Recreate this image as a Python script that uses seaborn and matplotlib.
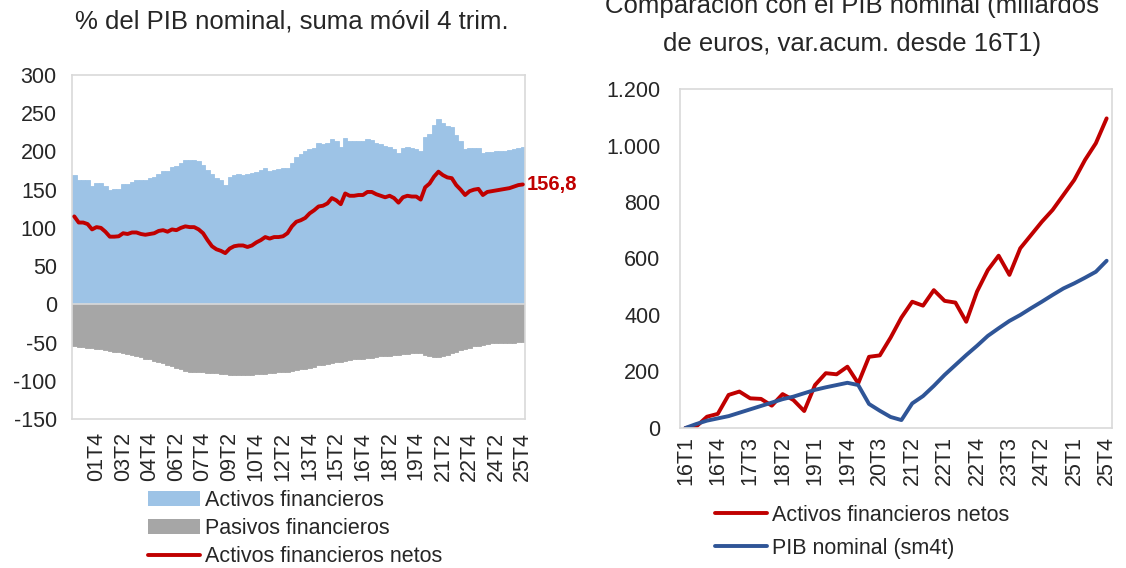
import numpy as np
import pandas as pd
import matplotlib
matplotlib.use('Agg')
import matplotlib.pyplot as plt
from matplotlib.patches import Patch
from matplotlib.lines import Line2D
from matplotlib.ticker import FuncFormatter
import seaborn as sns

# 左图：占名义GDP的百分比，00T3 - 25T4
activos = [169, 163, 163, 162, 155, 159, 159, 155, 150, 151,
           151, 158, 158, 160, 163, 163, 162, 165, 166, 170,
           174, 174, 180, 181, 185, 189, 189, 189, 187, 182,
           176, 171, 165, 162, 156, 167, 169, 170, 169, 171,
           172, 173, 176, 178, 174, 176, 177, 178, 178, 185,
           193, 197, 200, 203, 205, 211, 210, 211, 216, 213,
           206, 218, 214, 214, 213, 213, 216, 215, 211, 210,
           207, 206, 203, 198, 205, 206, 204, 203, 200, 219,
           223, 235, 242, 237, 233, 232, 222, 213, 203, 205,
           205, 204, 198, 199, 199, 200, 200, 201, 202, 203,
           205, 206]
pasivos = [-55, -56, -56, -57, -57, -58, -59, -60, -61, -62,
           -63, -64, -65, -66, -68, -69, -71, -72, -74, -75,
           -77, -79, -81, -83, -85, -87, -89, -89, -89, -89,
           -90, -90, -90, -91, -91, -92, -92, -93, -93, -92,
           -92, -91, -91, -91, -90, -90, -89, -89, -88, -87,
           -86, -85, -84, -83, -82, -80, -79, -78, -77, -76,
           -75, -74, -73, -72, -71, -71, -70, -70, -69, -68,
           -67, -67, -66, -66, -65, -65, -64, -64, -64, -66,
           -68, -69, -69, -68, -66, -64, -62, -60, -58, -57,
           -55, -54, -53, -52, -51, -51, -50, -50, -50, -50,
           -49, -49]
netos = [115, 107, 107, 105, 98, 101, 100, 95, 88.5, 88.5,
         89, 93, 92, 94, 94, 92, 91, 92, 93, 96,
         97, 95, 98, 97, 100, 102, 101, 101, 98, 93,
         84, 76, 72, 70, 67, 73, 76, 77, 77, 75,
         77, 81, 84, 88, 86, 88, 88, 89, 93, 102,
         108, 110, 113, 119, 123, 128, 129, 132, 139, 136,
         131, 145, 142, 142, 143, 143, 147, 147, 144, 142,
         140, 142, 139, 133, 140, 142, 141, 141, 137, 153,
         158, 167, 173.5, 169, 166, 165, 156, 150, 143, 148,
         150, 151, 143, 147, 148, 149, 150, 151, 152, 154,
         156, 156.8]
trimestres = [f"{(q + 2) // 4:02d}T{(q + 2) % 4 + 1}" for q in range(len(activos))]

# 右图：自16T1起的累计变化（十亿欧元）
netos_acum = [0, 5, 40, 50, 117, 129, 105, 103, 79, 120,
              99, 60, 152, 194, 190, 217, 158, 252, 257, 320,
              391, 447, 433, 488, 450, 444, 376, 483, 559, 610,
              542, 636, 683, 730, 772, 825, 878, 949, 1008, 1096]
pib_acum = [0, 14, 26, 34, 42, 54, 66, 78, 90, 102,
            111, 123, 135, 144, 152, 160, 152, 85, 61, 39,
            28, 87, 113, 149, 188, 223, 258, 291, 326, 353,
            379, 400, 424, 447, 471, 494, 512, 532, 553, 592]
trimestres2 = [f"{16 + q // 4}T{q % 4 + 1}" for q in range(len(netos_acum))]

c_act = '#9DC3E6'
c_pas = '#A6A6A6'
c_red = '#C00000'
c_blue = '#2F5597'
c_frame = '#D9D9D9'

sns.set_style('white')
plt.rcParams['font.family'] = ['Liberation Sans', 'DejaVu Sans']
plt.rcParams['axes.unicode_minus'] = False

fig = plt.figure(figsize=(11.26, 5.68), dpi=100)
ax1 = fig.add_axes([0.064, 0.2623, 0.4023, 0.6057])
ax2 = fig.add_axes([0.6039, 0.2465, 0.3837, 0.5968])

# 左图
n = len(activos)
x = np.arange(n)
df = pd.DataFrame({'x': x, 'activos': activos, 'pasivos': pasivos, 'netos': netos})
sns.barplot(data=df, x='x', y='activos', native_scale=True, width=1, color=c_act,
            saturation=1, linewidth=0.6, edgecolor=c_act, ax=ax1)
sns.barplot(data=df, x='x', y='pasivos', native_scale=True, width=1, color=c_pas,
            saturation=1, linewidth=0.6, edgecolor=c_pas, ax=ax1)
ax1.axhline(0, color=c_frame, lw=1.2, zorder=3)
sns.lineplot(data=df, x='x', y='netos', color=c_red, lw=2.8, ax=ax1, zorder=4)
ax1.annotate(f"{netos[-1]:.1f}".replace('.', ','), xy=(n - 1, netos[-1]), xytext=(3, 0),
             textcoords='offset points', va='center', ha='left', color=c_red,
             fontsize=14.5, fontweight='bold', annotation_clip=False)
ax1.set_xlim(-0.5, n - 0.5)
ax1.set_ylim(-150, 300)
ax1.set_yticks(range(-150, 301, 50))
ticks1 = list(range(5, n, 6))
ax1.set_xticks(ticks1)
ax1.set_xticklabels([trimestres[i] for i in ticks1], rotation=90)
ax1.set_xlabel('')
ax1.set_ylabel('')
ax1.tick_params(axis='y', length=0, pad=11, labelsize=15.5)
ax1.tick_params(axis='x', length=0, pad=9, labelsize=15.5)

# 右图
m = len(netos_acum)
df2 = pd.DataFrame({'x': np.arange(m), 'netos': netos_acum, 'pib': pib_acum})
sns.lineplot(data=df2, x='x', y='netos', color=c_red, lw=2.8, ax=ax2)
sns.lineplot(data=df2, x='x', y='pib', color=c_blue, lw=2.8, ax=ax2)
ax2.set_xlim(-0.5, m - 0.5)
ax2.set_ylim(0, 1200)
ax2.set_yticks(range(0, 1201, 200))
ax2.yaxis.set_major_formatter(FuncFormatter(lambda v, p: f"{int(v):,}".replace(',', '.')))
ticks2 = list(range(0, m, 3))
ax2.set_xticks(ticks2)
ax2.set_xticklabels([trimestres2[i] for i in ticks2], rotation=90)
ax2.set_xlabel('')
ax2.set_ylabel('')
ax2.tick_params(axis='y', length=0, pad=14, labelsize=15.5)
ax2.tick_params(axis='x', length=0, pad=6, labelsize=15.5)

for ax in (ax1, ax2):
    for s in ax.spines.values():
        s.set_visible(True)
        s.set_color(c_frame)
        s.set_linewidth(1.2)

# 标题（右侧标题第一行在原图中被顶部裁切）
fig.text(0.2593, 0.9613, '% del PIB nominal, suma móvil 4 trim.', ha='center', va='center', fontsize=18.5)
fig.text(0.7567, 0.989, 'Comparación con el PIB nominal (millardos', ha='center', va='center', fontsize=18.5)
fig.text(0.7567, 0.9225, 'de euros, var.acum. desde 16T1)', ha='center', va='center', fontsize=18.5)

# 图例
h1 = [Patch(facecolor=c_act, edgecolor='none'), Patch(facecolor=c_pas, edgecolor='none'),
      Line2D([0], [0], color=c_red, lw=2.8)]
fig.legend(h1, ['Activos financieros', 'Pasivos financieros', 'Activos financieros netos'],
           loc='upper left', bbox_to_anchor=(0.1314, 0.137), frameon=False, fontsize=15.5,
           handlelength=2.4, handletextpad=0.25, labelspacing=0.33, borderpad=0, borderaxespad=0)
h2 = [Line2D([0], [0], color=c_red, lw=2.8), Line2D([0], [0], color=c_blue, lw=2.8)]
fig.legend(h2, ['Activos financieros netos', 'PIB nominal (sm4t)'],
           loc='upper left', bbox_to_anchor=(0.635, 0.111), frameon=False, fontsize=15.5,
           handlelength=2.4, handletextpad=0.25, labelspacing=0.55, borderpad=0, borderaxespad=0)

plt.savefig('out.png', dpi=100)
